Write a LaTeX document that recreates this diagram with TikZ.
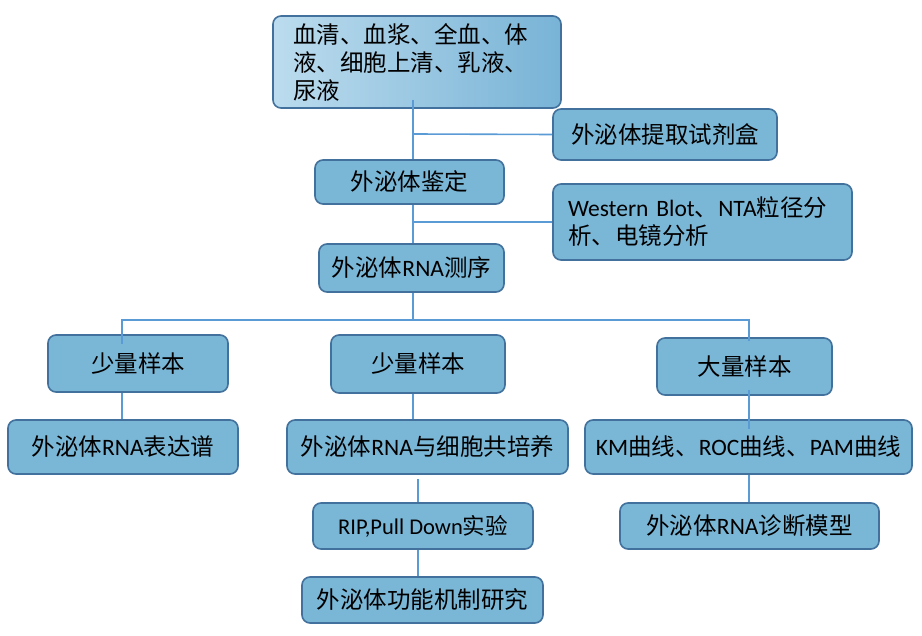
\documentclass[tikz,border=0pt]{standalone}
\usepackage{fontspec}
\setmainfont{Noto Sans CJK SC}
\newfontfamily\lat{Carlito}
\usetikzlibrary{calc}
\definecolor{boxfill}{HTML}{7AB6D6}
\definecolor{boxdraw}{HTML}{41719C}
\definecolor{linec}{HTML}{5B9BD5}
\definecolor{gradl}{HTML}{BCDCEE}
\definecolor{gradr}{HTML}{78B3D6}
\begin{document}
\begin{tikzpicture}[x=1pt,y=-1pt,
 box/.style={draw=boxdraw, line width=1.6pt, fill=boxfill, rounded corners=8pt, inner sep=0pt, font=\fontsize{23.5}{28}\selectfont},
 conn/.style={draw=linec, line width=1.6pt}]
\useasboundingbox (0,0) rectangle (922,636);

\node[box, minimum width=288pt, minimum height=92pt, text width=248pt, align=left, inner xsep=20pt, inner ysep=0pt, left color=gradl, right color=gradr] (src) at (417,62) {血清、血浆、全血、体\\液、细胞上清、乳液、\\尿液};
\node[box, minimum width=224pt, minimum height=51pt] (kit) at (665,134.5) {外泌体提取试剂盒};
\node[box, minimum width=189pt, minimum height=44pt] (jd) at (409.5,182) {外泌体鉴定};
\node[box, minimum width=299pt, minimum height=76pt, text width=269pt, align=left, inner xsep=15pt] (wb) at (702.5,222) {{\lat Western Blot}、{\lat NTA}粒径分\\析、电镜分析};
\node[box, minimum width=185pt, minimum height=48pt] (seq) at (411.5,268) {外泌体{\lat RNA}测序};
\node[box, minimum width=180pt, minimum height=57pt] (s1) at (138,363.5) {少量样本};
\node[box, minimum width=174pt, minimum height=58pt] (s2) at (418,364) {少量样本};
\node[box, minimum width=175pt, minimum height=57pt] (s3) at (744.5,366.5) {大量样本};
\node[box, minimum width=230pt, minimum height=54pt] (e1) at (123,447) {外泌体{\lat RNA}表达谱};
\node[box, minimum width=281pt, minimum height=54pt] (e2) at (427.5,447) {外泌体{\lat RNA}与细胞共培养};
\node[box, minimum width=327pt, minimum height=54pt] (e3) at (748.5,447) {{\lat KM}曲线、{\lat ROC}曲线、{\lat PAM}曲线};
\node[box, minimum width=220pt, minimum height=46pt, font=\fontsize{22.5}{27}\selectfont] (rip) at (423,526) {{\lat RIP,Pull Down}实验};
\node[box, minimum width=241pt, minimum height=46pt] (fn) at (422.5,600) {外泌体功能机制研究};
\node[box, minimum width=259pt, minimum height=46pt] (dg) at (749.5,526) {外泌体{\lat RNA}诊断模型};

\coordinate (j1) at (413,134);
\coordinate (j2) at (413,222);
\coordinate (j3) at (413,320);
\coordinate (jl) at (122,320);
\coordinate (jr) at (749,320);
\coordinate (k1) at (418,490);

\draw[conn] ($(src.south -| j1)+(0,-9)$) -- (j1) -- (jd.north -| j1);
\draw[conn] (j1) -- (kit.west);
\draw[conn] (jd.south -| j1) -- (j2) -- (seq.north -| j1);
\draw[conn] (j2) -- (wb.west);
\draw[conn] (seq.south -| j1) -- (j3);
\draw[conn] ($(s1.north -| jl)+(0,10)$) -- (jl) -- (jr) -- ($(s3.north -| jr)+(0,4)$);
\draw[conn] (s1.south -| jl) -- (e1.north -| jl);
\draw[conn] (s2.south -| j1) -- (e2.north -| j1);
\draw[conn] ($(s3.south -| jr)+(0,-6)$) -- ($(e3.north -| jr)+(0,10)$);
\draw[conn] ($(e2.south -| k1)+(0,4)$) -- (rip.north -| k1);
\draw[conn] (rip.south -| k1) -- (fn.north -| k1);
\draw[conn] (e3.south -| jr) -- (dg.north -| jr);
\end{tikzpicture}
\end{document}
